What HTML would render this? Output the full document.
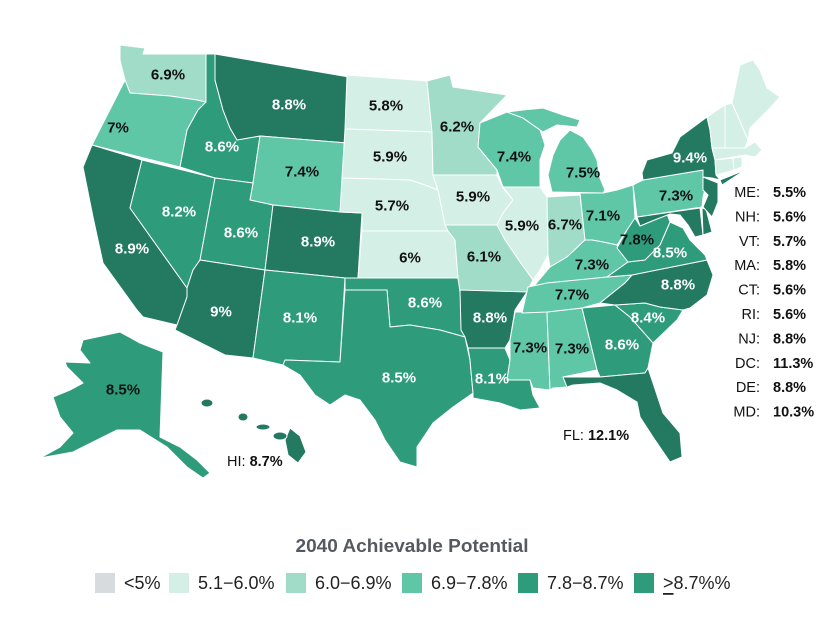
<!DOCTYPE html>
<html><head><meta charset="utf-8"><style>
html,body{margin:0;padding:0;background:#fff;}
svg{display:block;}
.s{stroke:#fff;stroke-width:1;stroke-linejoin:round;}
.a{fill:#d3efe6}.b{fill:#a0dcc7}.c{fill:#5fc6a6}.d{fill:#2e9c7a}.e{fill:#237a61}
.l{font-family:"Liberation Sans",sans-serif;font-weight:bold;font-size:15px;text-anchor:middle;dominant-baseline:central;}
.w{fill:#fff}.k{fill:#111}
.r{font-family:"Liberation Sans",sans-serif;font-size:14.5px;fill:#111;dominant-baseline:central;}
</style></head><body>
<svg width="826" height="620" viewBox="0 0 826 620" xmlns="http://www.w3.org/2000/svg">
<g class="s">
<polygon class="b" points="120,45 145,48 143,54 206,54 206,102 197,100 170,96 130,93 125,80 120,60"/>
<polygon class="c" points="125,80 130,93 170,96 197,100 206,102 198,110 187,130 180,167 92,145"/>
<polygon class="e" points="92,145 142,160 130,208 187,288 187,297 177,325 143,317 137,310 103,263 93,217 83,167"/>
<polygon class="d" points="142,160 215,178 200,260 193,270 187,288 130,208"/>
<polygon class="d" points="206,54 215,54 215,80 223,110 230,128 237,140 260,136 253,183 215,178 180,167 187,130 198,110 206,102"/>
<polygon class="e" points="215,54 349,77 347,143 260,136 237,140 230,128 223,110 215,80"/>
<polygon class="c" points="260,136 347,143 340,212 273,205 250,200 253,183"/>
<polygon class="d" points="215,178 253,183 250,200 273,205 265,270 200,260"/>
<polygon class="e" points="273,205 340,212 362,213 358,278 345,278 265,270"/>
<polygon class="e" points="200,260 265,270 253,358 225,355 175,330 177,325 187,297 187,288 193,270"/>
<polygon class="d" points="265,270 345,278 340,362 285,360 283,365 253,358"/>
<polygon class="a" points="347,75 427,81 432,132 345,129"/>
<polygon class="a" points="345,129 432,132 433,175 438,190 425,185 410,180 342,178"/>
<polygon class="a" points="342,178 410,180 425,185 438,190 443,215 448,231 362,231 362,213 340,212"/>
<polygon class="a" points="362,231 448,231 455,240 458,278 358,278"/>
<polygon class="d" points="345,278 458,278 461,290 465,337 440,330 410,325 390,327 387,290 345,290"/>
<polygon class="d" points="345,290 387,290 390,327 410,325 440,330 465,337 470,360 473,393 453,407 433,423 417,447 417,467 400,462 385,440 375,420 360,400 345,395 330,405 315,395 300,375 283,365 285,360 340,362"/>
<polygon class="b" points="427,81 450,75 453,87 507,95 480,123 478,147 497,170 497,175 433,175 432,132"/>
<polygon class="a" points="433,175 497,175 503,188 513,200 503,213 497,225 445,225 438,190"/>
<polygon class="c" points="480,123 507,112 523,118 540,130 545,145 540,160 540,187 503,187 497,170 478,147"/>
<polygon class="c" points="507,112 523,110 543,108 563,115 580,120 577,127 557,125 543,132 523,118"/>
<polygon class="c" points="552,192 548,175 553,155 560,140 570,130 583,137 592,150 597,160 600,178 605,190 603,193"/>
<polygon class="a" points="503,187 540,187 547,197 548,255 540,270 533,280 520,262 505,240 497,225 503,213 513,200"/>
<polygon class="b" points="547,197 580,195 585,240 567,257 550,267 548,255"/>
<polygon class="b" points="445,225 497,225 505,240 520,262 533,280 527,292 515,292 460,292 458,278 455,240 448,231"/>
<polygon class="c" points="580,193 603,193 617,190 633,185 635,218 627,230 617,245 603,242 592,240 585,240"/>
<polygon class="e" points="460,290 527,292 515,310 510,340 505,348 468,348 465,337 461,330"/>
<polygon class="d" points="468,348 505,348 510,360 507,380 530,380 533,395 540,408 520,410 500,403 473,398 473,393 470,360"/>
<polygon class="c" points="515,312 547,312 550,390 533,388 530,380 507,380 510,360 510,340"/>
<polygon class="c" points="547,312 582,308 597,370 563,377 567,387 553,388 550,390"/>
<polygon class="d" points="582,308 615,305 630,317 653,343 648,368 645,373 600,377 597,370"/>
<polygon class="e" points="563,377 600,377 645,373 648,368 663,413 680,433 682,457 670,462 653,437 640,417 637,402 617,390 600,383 573,385 567,387"/>
<polygon class="d" points="615,305 645,303 660,307 683,310 677,320 653,343 630,317"/>
<polygon class="c" points="533,287 550,267 567,257 585,240 592,240 603,242 617,245 618,248 628,262 607,277 580,280 547,283"/>
<polygon class="c" points="528,287 547,283 607,277 632,275 625,283 600,303 582,308 547,312 522,313 525,300"/>
<polygon class="e" points="632,275 707,260 713,275 707,295 690,308 683,310 660,307 645,303 615,305 600,303 625,283"/>
<polygon class="d" points="607,277 628,262 645,260 660,245 670,222 683,228 690,240 705,255 707,260 632,275"/>
<polygon class="d" points="635,218 640,226 652,221 667,214 670,222 660,245 645,260 628,262 617,248 627,230"/>
<polygon class="e" points="637,217 700,208 703,235 695,237 688,225 680,215 670,214 652,221 640,226"/>
<polygon class="e" points="702,208 706,209 712,232 703,235"/>
<polygon class="c" points="633,185 643,180 703,170 707,182 703,197 702,207 637,217"/>
<polygon class="e" points="642,173 647,160 672,153 680,137 707,117 710,130 712,148 715,160 716,175 720,180 712,178 703,177 703,170 643,180"/>
<polygon class="e" points="720,180 745,170 722,185"/>
<polygon class="e" points="703,177 718,183 718,202 712,217 703,207 708,195 703,190"/>
<polygon class="a" points="732,103 740,65 753,60 760,70 767,88 780,97 770,108 760,118 750,128 748,140"/>
<polygon class="a" points="725,105 732,103 748,140 745,148 725,148"/>
<polygon class="a" points="707,117 725,105 725,148 712,148 710,130"/>
<polygon class="a" points="712,148 745,148 755,142 762,150 755,157 745,155 715,160"/>
<polygon class="a" points="715,160 733,158 734,170 716,175"/>
<polygon class="a" points="733,158 742,157 742,167 734,170"/>
<polygon class="d" points="83,340 120,332 140,343 163,352 160,437 180,447 197,460 210,473 203,478 187,467 167,447 140,430 117,430 97,440 73,452 40,458 60,447 73,433 60,417 53,397 70,390 83,383 67,367 65,362 90,363 80,350"/>
<polygon class="e" points="290,428 300,436 306,452 298,463 288,455 285,440"/>
<ellipse class="e" cx="207" cy="403" rx="6" ry="4"/>
<ellipse class="e" cx="243" cy="417" rx="5" ry="4"/>
<ellipse class="e" cx="263" cy="427" rx="7" ry="3"/>
<ellipse class="e" cx="280" cy="436" rx="7" ry="4"/>
</g>
<g class="l">
<text x="168" y="75" class="k">6.9%</text>
<text x="118" y="128" class="k">7%</text>
<text x="132" y="249" class="w">8.9%</text>
<text x="179" y="212" class="w">8.2%</text>
<text x="222" y="147" class="w">8.6%</text>
<text x="289" y="105" class="w">8.8%</text>
<text x="302" y="172" class="k">7.4%</text>
<text x="241" y="233" class="w">8.6%</text>
<text x="318" y="242" class="w">8.9%</text>
<text x="221" y="312" class="w">9%</text>
<text x="300" y="318" class="w">8.1%</text>
<text x="386" y="106" class="k">5.8%</text>
<text x="390" y="157" class="k">5.9%</text>
<text x="392" y="206" class="k">5.7%</text>
<text x="410" y="258" class="k">6%</text>
<text x="457" y="127" class="k">6.2%</text>
<text x="473" y="197" class="k">5.9%</text>
<text x="522" y="226" class="k">5.9%</text>
<text x="565" y="225" class="k">6.7%</text>
<text x="514" y="157" class="k">7.4%</text>
<text x="583" y="173" class="k">7.5%</text>
<text x="484" y="257" class="k">6.1%</text>
<text x="425" y="303" class="w">8.6%</text>
<text x="490" y="318" class="w">8.8%</text>
<text x="399" y="378" class="w">8.5%</text>
<text x="492" y="379" class="w">8.1%</text>
<text x="530" y="348" class="k">7.3%</text>
<text x="572" y="349" class="k">7.3%</text>
<text x="622" y="345" class="w">8.6%</text>
<text x="648" y="318" class="w">8.4%</text>
<text x="678" y="285" class="w">8.8%</text>
<text x="572" y="295" class="k">7.7%</text>
<text x="592" y="265" class="k">7.3%</text>
<text x="670" y="253" class="w">8.5%</text>
<text x="637" y="240" class="k">7.8%</text>
<text x="603" y="216" class="k">7.1%</text>
<text x="676" y="196" class="k">7.3%</text>
<text x="690" y="158" class="w">9.4%</text>
<text x="123" y="390" class="k">8.5%</text>
</g>
<g class="r">
<text x="760" y="193" text-anchor="end">ME:</text><text x="773" y="193" font-weight="bold">5.5%</text>
<text x="760" y="217.4" text-anchor="end">NH:</text><text x="773" y="217.4" font-weight="bold">5.6%</text>
<text x="760" y="241.8" text-anchor="end">VT:</text><text x="773" y="241.8" font-weight="bold">5.7%</text>
<text x="760" y="266.2" text-anchor="end">MA:</text><text x="773" y="266.2" font-weight="bold">5.8%</text>
<text x="760" y="290.6" text-anchor="end">CT:</text><text x="773" y="290.6" font-weight="bold">5.6%</text>
<text x="760" y="315" text-anchor="end">RI:</text><text x="773" y="315" font-weight="bold">5.6%</text>
<text x="760" y="339.4" text-anchor="end">NJ:</text><text x="773" y="339.4" font-weight="bold">8.8%</text>
<text x="760" y="363.8" text-anchor="end">DC:</text><text x="773" y="363.8" font-weight="bold">11.3%</text>
<text x="760" y="388.2" text-anchor="end">DE:</text><text x="773" y="388.2" font-weight="bold">8.8%</text>
<text x="760" y="412.6" text-anchor="end">MD:</text><text x="773" y="412.6" font-weight="bold">10.3%</text>
<text x="563" y="436">FL: <tspan font-weight="bold">12.1%</tspan></text>
<text x="227" y="462">HI: <tspan font-weight="bold">8.7%</tspan></text>
</g>
<text x="412" y="546" font-family="Liberation Sans, sans-serif" font-weight="bold" font-size="18" fill="#555a60" text-anchor="middle" dominant-baseline="central" textLength="233" lengthAdjust="spacingAndGlyphs">2040 Achievable Potential</text>
<g font-family="Liberation Sans, sans-serif" font-size="18" fill="#222" dominant-baseline="central">
<rect x="95" y="573" width="20" height="20" fill="#d8dbde"/><text x="124" y="583">&lt;5%</text>
<rect x="169" y="573" width="20" height="20" fill="#d3efe6"/><text x="198" y="583">5.1−6.0%</text>
<rect x="286" y="573" width="20" height="20" fill="#a0dcc7"/><text x="315" y="583">6.0−6.9%</text>
<rect x="402" y="573" width="20" height="20" fill="#5fc6a6"/><text x="431" y="583">6.9−7.8%</text>
<rect x="518" y="573" width="20" height="20" fill="#2e9c7a"/><text x="547" y="583">7.8−8.7%</text>
<rect x="634" y="573" width="20" height="20" fill="#2e9c7a"/><text x="663" y="583"><tspan text-decoration="underline">&gt;</tspan>8.7%%</text>
</g>
</svg>
</body></html>
